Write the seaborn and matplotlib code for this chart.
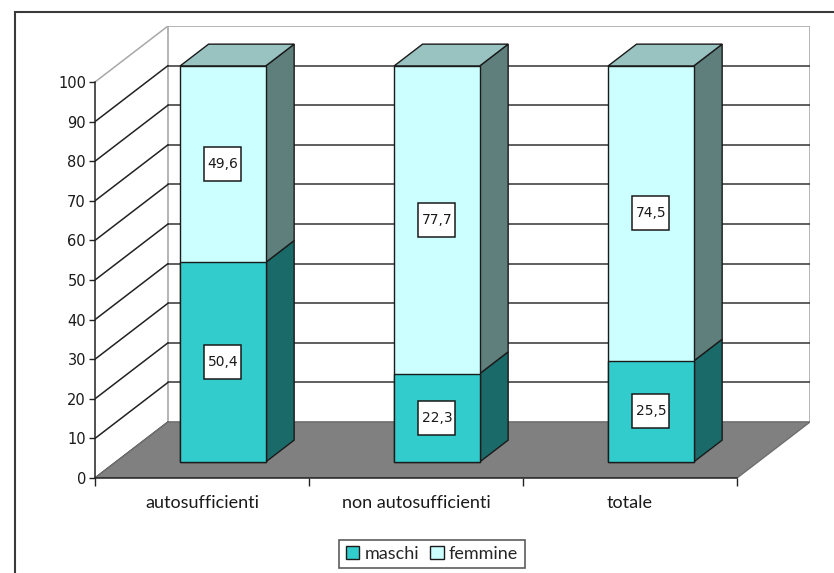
import matplotlib
matplotlib.use("Agg")
from matplotlib import pyplot as plt
from matplotlib import transforms
from matplotlib.patches import Polygon, Rectangle, Patch
import seaborn as sns

# data
categories = ["autosufficienti", "non autosufficienti", "totale"]
maschi = [50.4, 22.3, 25.5]
femmine = [49.6, 77.7, 74.5]
series_names = ["maschi", "femmine"]
y_ticks = list(range(0, 101, 10))

# colours
col_m, col_f = "#33CCCC", "#CCFFFF"
side_m, side_f = "#1B6A6A", "#5F7F7C"
top_f = "#99C3C0"
edge = "#1A1A1A"

sns.set_style("white")
plt.rcParams["font.family"] = ["DejaVu Sans"]
label_font = ["Lato", "DejaVu Sans"]

W, H = 834, 573
fig = plt.figure(figsize=(W / 100, H / 100), dpi=100)

# pseudo 3d geometry (pixels -> data units)
ppx, ppy = 214.0, 3.96
depth_x, depth_y = 73 / ppx, 56 / ppy
front_at = 0.286            # where the bar front face sits in the depth
bar_depth = 0.39            # how deep the bars are
x0, x1 = -0.5, len(categories) - 0.5

left_px, bottom_px = 95, 478
ax_w = (x1 + depth_x - x0) * ppx
ax_h = (100 + depth_y) * ppy
ax = fig.add_axes([left_px / W, 1 - bottom_px / H, ax_w / W, ax_h / H])

# back wall + grid
ax.add_patch(Rectangle((x0 + depth_x, depth_y), x1 - x0, 100, fc="white",
                       ec="#A8A8A8", lw=1.2, zorder=1))
for v in y_ticks[1:-1]:
    ax.plot([x0 + depth_x, x1 + depth_x], [v + depth_y] * 2, color="#333333", lw=1.1, zorder=2)
for v in y_ticks:
    c = "#A8A8A8" if v == 100 else "#222222"
    ax.plot([x0, x0 + depth_x], [v, v + depth_y], color=c, lw=1.1, zorder=2)

# floor
ax.add_patch(Polygon([(x0, 0), (x1, 0), (x1 + depth_x, depth_y), (x0 + depth_x, depth_y)],
                     closed=True, fc="#808080", ec="#6E6E6E", lw=1, zorder=3))

# front faces via seaborn (stacked: total first, maschi over it)
totals = [m + f for m, f in zip(maschi, femmine)]
n0 = len(ax.patches)
sns.barplot(x=categories, y=totals, color=col_f, width=0.4, saturation=1,
            errorbar=None, edgecolor=edge, linewidth=1, ax=ax, zorder=6)
f_bars = ax.patches[n0:]
n0 = len(ax.patches)
sns.barplot(x=categories, y=maschi, color=col_m, width=0.4, saturation=1,
            errorbar=None, edgecolor=edge, linewidth=1, ax=ax, zorder=7)
m_bars = ax.patches[n0:]

tx, ty = front_at * depth_x, front_at * depth_y
bx, by = bar_depth * depth_x, bar_depth * depth_y
shift = transforms.Affine2D().translate(tx, ty) + ax.transData
for p in f_bars + m_bars:
    p.set_transform(shift)


def side_face(p, lo, hi, color):
    x = p.get_x() + p.get_width()
    return Polygon([(x, lo), (x, hi), (x + bx, hi + by), (x + bx, lo + by)], closed=True,
                   fc=color, ec=edge, lw=1, transform=shift, zorder=5)


for pf, pm, m, f in zip(f_bars, m_bars, maschi, femmine):
    top = pf.get_height()
    ax.add_patch(side_face(pm, 0, m, side_m))
    ax.add_patch(side_face(pf, m, top, side_f))
    xl, xr = pf.get_x(), pf.get_x() + pf.get_width()
    ax.add_patch(Polygon([(xl, top), (xr, top), (xr + bx, top + by), (xl + bx, top + by)],
                         closed=True, fc=top_f, ec=edge, lw=1, transform=shift, zorder=5))
    xc = pf.get_x() + pf.get_width() / 2
    for val, yc in [(m, m / 2), (f, m + f / 2)]:
        bw, bh = 37 / ppx, 34 / ppy
        ax.add_patch(Rectangle((xc - bw / 2, yc - bh / 2), bw, bh, fc="white", ec=edge,
                               lw=1.1, transform=shift, zorder=8))
        ax.text(xc, yc, f"{val:.1f}".replace(".", ","), ha="center", va="center",
                fontsize=10, color="#1A1A1A", transform=shift, zorder=9)

# axes
ax.set_xlim(x0, x1 + depth_x)
ax.set_ylim(0, 100 + depth_y)
for s in ["top", "right"]:
    ax.spines[s].set_visible(False)
ax.spines["left"].set_bounds(0, 100)
ax.spines["bottom"].set_bounds(x0, x1)
for s in ["left", "bottom"]:
    ax.spines[s].set_color("#222222")
    ax.spines[s].set_linewidth(1.1)
    ax.spines[s].set_zorder(4)
ax.set_yticks(y_ticks)
ax.tick_params(axis="y", direction="out", length=4.5, width=1, color="#222222",
               labelsize=10.5, labelcolor="#1A1A1A", pad=2, left=True)
ax.set_xticks(range(len(categories)))
ax.set_xticklabels(categories, fontfamily=label_font, fontsize=13, color="#1A1A1A")
ax.set_xticks([x0 + i for i in range(len(categories) + 1)], minor=True)
ax.tick_params(axis="x", which="major", length=0, pad=12)
ax.tick_params(axis="x", which="minor", direction="out", length=6, width=1,
               color="#222222", bottom=True)
ax.set_xlabel("")
ax.set_ylabel("")
ax.grid(False)

# legend
handles = [Patch(fc=col_m, ec=edge, lw=1, label=series_names[0]),
           Patch(fc=col_f, ec=edge, lw=1, label=series_names[1])]
leg = fig.legend(handles=handles, loc="center", bbox_to_anchor=(432 / W, 1 - 554 / H), ncol=2,
                 frameon=True, fancybox=False, edgecolor="#333333", handlelength=0.75,
                 handleheight=0.75, handletextpad=0.3, columnspacing=0.6, borderpad=0.35,
                 prop={"family": label_font, "size": 13})
leg.get_frame().set_linewidth(1.2)

# outer chart border
fig.patches.append(Rectangle((15 / W, -0.1), 1.2, 1 - 12 / H + 0.1, transform=fig.transFigure,
                             fill=False, ec="#3A3A3A", lw=1.5, figure=fig))

fig.savefig("out.png", dpi=100)
